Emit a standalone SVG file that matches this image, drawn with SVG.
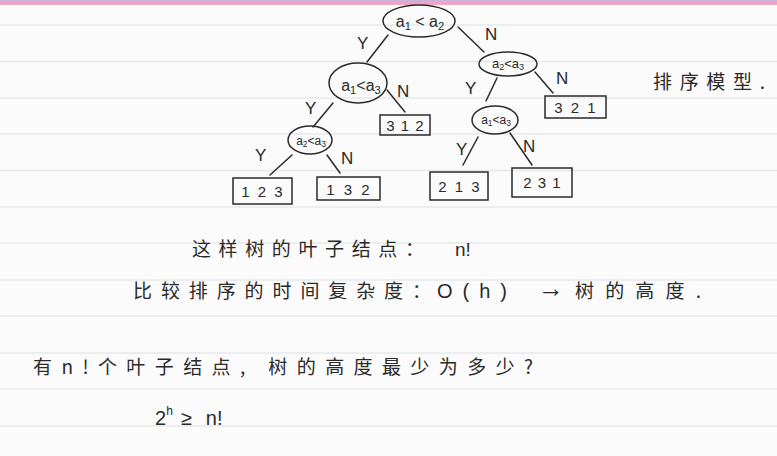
<svg xmlns="http://www.w3.org/2000/svg" width="777" height="456" viewBox="0 0 777 456">
<style>
.rule{stroke:#e6e8ea;stroke-width:1.5}
.ink{fill:none;stroke:#2a2a2a;stroke-width:1.5;stroke-linecap:round;stroke-linejoin:round}
.t{font-family:"Liberation Sans","Noto Sans CJK SC",sans-serif;fill:#2a2a2a}
.cn{font-family:"Noto Sans CJK SC","Liberation Sans",sans-serif;fill:#2a2a2a;font-weight:400}
.lbl{font-family:"Liberation Sans",sans-serif;fill:#2a2a2a;font-size:17px}
.box{fill:none;stroke:#2a2a2a;stroke-width:1.5}
.num{font-family:"Liberation Sans",sans-serif;fill:#2a2a2a;font-size:15px;text-anchor:middle}
.sub{font-size:70%}
</style>
<rect x="0" y="0" width="777" height="456" fill="#fbfbfb"/>
<g id="paper">
<rect x="0" y="0" width="777" height="5" fill="#eea5c6"/>
<rect x="0" y="0" width="777" height="1.5" fill="#c9b3d8"/>
<line class="rule" x1="0" y1="25" x2="777" y2="25"/>
<line class="rule" x1="0" y1="61.5" x2="777" y2="61.5"/>
<line class="rule" x1="0" y1="98" x2="777" y2="98"/>
<line class="rule" x1="0" y1="134" x2="777" y2="134"/>
<line class="rule" x1="0" y1="170.5" x2="777" y2="170.5"/>
<line class="rule" x1="0" y1="207" x2="777" y2="207"/>
<line class="rule" x1="0" y1="243" x2="777" y2="243"/>
<line class="rule" x1="0" y1="280" x2="777" y2="280"/>
<line class="rule" x1="0" y1="316" x2="777" y2="316"/>
<line class="rule" x1="0" y1="353" x2="777" y2="353"/>
<line class="rule" x1="0" y1="389" x2="777" y2="389"/>
<line class="rule" x1="0" y1="426" x2="777" y2="426"/>
</g>
<g id="connectors">
<line class="ink" x1="388" y1="35" x2="367" y2="62"/>
<line class="ink" x1="458" y1="27" x2="484" y2="52"/>
<line class="ink" x1="333" y1="103" x2="313" y2="127"/>
<line class="ink" x1="387" y1="90" x2="405" y2="112"/>
<line class="ink" x1="497" y1="78" x2="486" y2="101"/>
<line class="ink" x1="535" y1="72" x2="553" y2="93"/>
<line class="ink" x1="292" y1="155" x2="270" y2="175"/>
<line class="ink" x1="327" y1="155" x2="340" y2="173"/>
<line class="ink" x1="478" y1="137" x2="463" y2="165"/>
<line class="ink" x1="510" y1="133" x2="532" y2="165"/>
<text class="lbl" x="357" y="49">Y</text>
<text class="lbl" x="485" y="40">N</text>
<text class="lbl" x="305" y="114">Y</text>
<text class="lbl" x="397" y="97">N</text>
<text class="lbl" x="465" y="94">Y</text>
<text class="lbl" x="556" y="84">N</text>
<text class="lbl" x="255" y="161">Y</text>
<text class="lbl" x="341" y="164">N</text>
<text class="lbl" x="456" y="155">Y</text>
<text class="lbl" x="523" y="152">N</text>
</g>
<g id="n_root">
<ellipse class="ink" cx="419" cy="21" rx="36" ry="16"/>
<text class="t" x="420" y="27" font-size="16" text-anchor="middle">a<tspan class="sub" dy="3">1</tspan><tspan dy="-3"> &lt; a</tspan><tspan class="sub" dy="3">2</tspan></text>
</g>
<g id="n_a1a3_left">
<ellipse class="ink" cx="358" cy="83" rx="29" ry="20"/>
<text class="t" x="361" y="91" font-size="16" text-anchor="middle">a<tspan class="sub" dy="3">1</tspan><tspan dy="-3">&lt;a</tspan><tspan class="sub" dy="3">3</tspan></text>
</g>
<g id="n_a2a3_right">
<ellipse class="ink" cx="508" cy="64" rx="29" ry="12"/>
<text class="t" x="508" y="68" font-size="13" text-anchor="middle">a<tspan class="sub" dy="2">2</tspan><tspan dy="-2">&lt;a</tspan><tspan class="sub" dy="2">3</tspan></text>
</g>
<g id="n_a2a3_bottom">
<ellipse class="ink" cx="310" cy="140" rx="22" ry="14"/>
<text class="t" x="311" y="145" font-size="12" text-anchor="middle">a<tspan class="sub" dy="2">2</tspan><tspan dy="-2">&lt;a</tspan><tspan class="sub" dy="2">3</tspan></text>
</g>
<g id="n_a1a3_bottom">
<ellipse class="ink" cx="495" cy="120" rx="23" ry="14"/>
<text class="t" x="496" y="124" font-size="12" text-anchor="middle">a<tspan class="sub" dy="2">1</tspan><tspan dy="-2">&lt;a</tspan><tspan class="sub" dy="2">3</tspan></text>
</g>
<g id="leaf_321">
<rect class="box" x="545" y="96" width="61" height="22"/>
<text class="num" x="575" y="113" word-spacing="4">3 2 1</text>
</g>
<g id="leaf_312">
<rect class="box" x="380" y="115" width="50" height="20"/>
<text class="num" x="405" y="131" word-spacing="2">3 1 2</text>
</g>
<g id="leaf_123">
<rect class="box" x="233" y="178" width="59" height="26"/>
<text class="num" x="262" y="197" word-spacing="4">1 2 3</text>
</g>
<g id="leaf_132">
<rect class="box" x="317" y="177" width="63" height="23"/>
<text class="num" x="348" y="195" word-spacing="5">1 3 2</text>
</g>
<g id="leaf_213">
<rect class="box" x="430" y="172" width="58" height="28"/>
<text class="num" x="459" y="192" word-spacing="4">2 1 3</text>
</g>
<g id="leaf_231">
<rect class="box" x="512" y="168" width="60" height="29"/>
<text class="num" x="542" y="188" word-spacing="2">2 3 1</text>
</g>
<g id="notes">
<text class="cn" x="653" y="89" font-size="19" textLength="112" lengthAdjust="spacing">排序模型.</text>
<text class="cn" x="192" y="256" font-size="19" textLength="232" lengthAdjust="spacing">这样树的叶子结点：</text>
<text class="t" x="455" y="256" font-size="19">n!</text>
<text class="cn" x="133" y="298" font-size="19" textLength="298" lengthAdjust="spacing">比较排序的时间复杂度：</text>
<text class="t" x="437" y="298" font-size="20" textLength="70" lengthAdjust="spacing">O(h)</text>
<text class="t" x="538" y="297" font-size="26">→</text>
<text class="cn" x="575" y="298" font-size="19" textLength="126" lengthAdjust="spacing">树的高度.</text>
<text class="cn" x="33" y="374" font-size="19" textLength="500" lengthAdjust="spacing">有n!个叶子结点, 树的高度最少为多少?</text>
<text class="t" x="155" y="425" font-size="20">2<tspan font-size="12" dy="-10">h</tspan><tspan dy="10" dx="8">≥</tspan><tspan dx="14">n!</tspan></text>
</g>
</svg>
